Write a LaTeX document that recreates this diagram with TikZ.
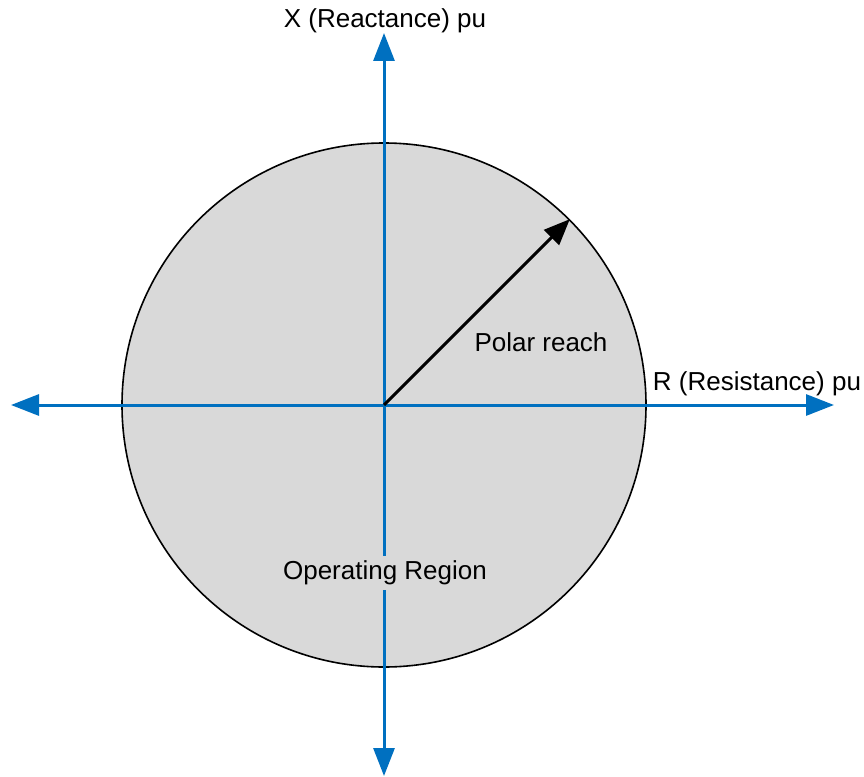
\documentclass[tikz,border=0pt]{standalone}
\usepackage{fontspec}
\setmainfont{Liberation Sans}
\usetikzlibrary{arrows.meta}
\definecolor{axisblue}{HTML}{0070C0}
\definecolor{regiongray}{HTML}{D9D9D9}
\tikzset{
  axisline/.style={draw=axisblue, line width=3pt, {Triangle[length=28pt,width=21pt]}-{Triangle[length=28pt,width=21pt]}},
  reachline/.style={draw=black, line width=3pt, -{Triangle[length=26pt,width=21pt]}},
  region/.style={circle, draw=black, line width=1.6pt, fill=regiongray, minimum size=524pt, inner sep=0pt},
  lbl/.style={font=\fontsize{26}{30}\selectfont, inner sep=2pt},
}
\begin{document}
\begin{tikzpicture}[x=1pt,y=-1pt]
\useasboundingbox (0,0) rectangle (864,776);
\node[region] (circ) at (384,405) {};
\coordinate (O) at (384,405);
\coordinate (L) at (11,405);
\coordinate (R) at (834,405);
\coordinate (T) at (384,33);
\coordinate (B) at (384,776);
\draw[axisline] (L) -- (R);
\draw[axisline] (B) -- (T);
\draw[reachline] (O) -- (circ.45);
\node[lbl] (xlab) at (385,21) {X (Reactance) pu};
\node[lbl] (rlab) at (757,384) {R (Resistance) pu};
\node[lbl] (plab) at (541,342) {Polar reach};
\node[lbl, fill=regiongray, inner sep=5pt] (oplab) at (385,573) {Operating Region};
\end{tikzpicture}
\end{document}
